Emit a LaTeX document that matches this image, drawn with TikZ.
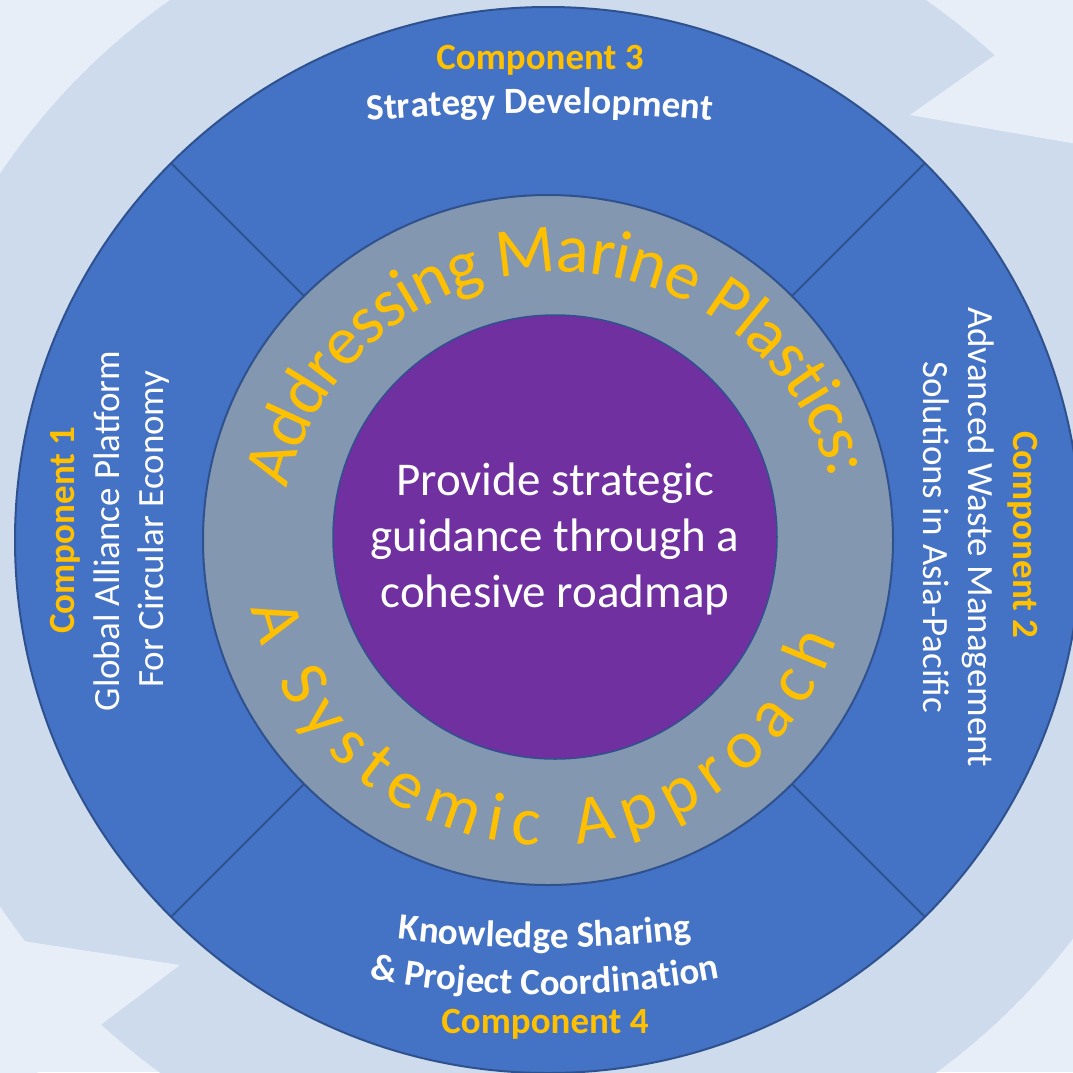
\documentclass[tikz,border=0pt]{standalone}
\usepackage{fontspec}
\setmainfont{Carlito}
\usetikzlibrary{calc}
\definecolor{bgl}{HTML}{E7EEF7}
\definecolor{ringc}{HTML}{CDDBED}
\definecolor{blu}{HTML}{4472C4}
\definecolor{edgeb}{HTML}{2F528F}
\definecolor{grayb}{HTML}{8497B0}
\definecolor{purp}{HTML}{7030A0}
\definecolor{gold}{HTML}{FFC000}
\newcommand\labfont{\fontsize{37}{44}\selectfont}
\newcommand\labbold{\fontsize{37}{44}\selectfont\bfseries}
\newcommand\ringfont{\fontsize{69}{80}\selectfont}
\newlength\rtw
% measure characters (outside the picture): #1 prefix, #2 font, #3 list
\newcommand\measuretext[3]{%
  \begingroup #2%
  \xdef\rttot{0}%
  \foreach \ch [count=\ci] in {#3} {%
    \settowidth{\rtw}{\ch}%
    \expandafter\xdef\csname rtw#1\ci\endcsname{\the\rtw}%
    \pgfmathsetmacro\rtt{\rttot+\rtw}\xdef\rttot{\rtt}%
    \expandafter\xdef\csname rtn#1\endcsname{\ci}%
  }%
  \expandafter\xdef\csname rttot#1\endcsname{\rttot}%
  \endgroup}
% #1 centre, #2 radius, #3 mid angle, #4 span angle (0 = natural), #5 sign (+1 ccw, -1 cw),
% #6 font, #7 colour, #8 prefix, #9 character list
\newcommand\arctext[9]{%
  \begingroup
  \edef\rttot{\csname rttot#8\endcsname}%
  \edef\rtn{\csname rtn#8\endcsname}%
  \pgfmathsetmacro\rtgap{(#4>0) ? ((#4*pi/180*#2-\rttot)/(\rtn-1)) : 0}%
  \pgfmathsetmacro\rtfull{\rttot+(\rtn-1)*\rtgap}%
  \pgfmathsetmacro\rtstart{#3-(#5)*\rtfull/2/#2*180/pi}%
  \xdef\rtpos{0}%
  \foreach \ch [count=\ci] in {#9} {%
    \edef\rtcw{\csname rtw#8\ci\endcsname}%
    \pgfmathsetmacro\rtang{\rtstart+(#5)*(\rtpos+\rtcw/2)/#2*180/pi}%
    \pgfmathsetmacro\rtrot{\rtang+(#5)*90}%
    \node[anchor=base, inner sep=0pt, outer sep=0pt, text=#7, font=#6, rotate=\rtrot] (#8\ci) at ($(#1)+(\rtang:#2)$) {\ch};
    \pgfmathsetmacro\rtp{\rtpos+\rtcw+\rtgap}\xdef\rtpos{\rtp}%
  }%
  \endgroup
}
\begin{document}%
\measuretext{rt}{\ringfont}{A,d,d,r,e,s,s,i,n,g,\ ,M,a,r,i,n,e,\ ,P,l,a,s,t,i,c,s,:}%
\measuretext{rb}{\ringfont}{A,\ ,S,y,s,t,e,m,i,c,\ ,A,p,p,r,o,a,c,h}%
\measuretext{sd}{\labbold}{S,t,r,a,t,e,g,y,\ ,D,e,v,e,l,o,p,m,e,n,t}%
\measuretext{ks}{\labbold}{K,n,o,w,l,e,d,g,e,\ ,S,h,a,r,i,n,g}%
\measuretext{pc}{\labbold}{\&,\ ,P,r,o,j,e,c,t,\ ,C,o,o,r,d,i,n,a,t,i,o,n}%
\begin{tikzpicture}[x=1pt,y=1pt,
  disc/.style={circle, inner sep=0pt, outer sep=0pt, draw=edgeb},
  comp/.style={font=\labbold, text=gold, inner sep=0pt, anchor=base},
  desc/.style={font=\labfont, text=white, inner sep=0pt, anchor=base},
  goal/.style={font=\fontsize{47}{56}\selectfont, text=white, inner sep=0pt, anchor=base},
  divider/.style={draw=edgeb, line width=2pt}]
\useasboundingbox (0,0) rectangle (1073,-1072);
% background and circular arrows
\fill[bgl] (0,0) rectangle (1073,-1072);
\fill[ringc, even odd rule] (548,-540) circle[radius=659] (548,-540) circle[radius=450];
\fill[bgl] (910,-115) -- (1087,10) -- (1100,10) -- (1100,-148) -- cycle;
\fill[bgl] (180,-965) -- (21,-1085) -- (-10,-1085) -- (-10,-936) -- cycle;
% discs
\node[disc, fill=blu, line width=2pt, minimum size=1066pt] (outer) at (548,-540) {};
\node[disc, fill=grayb, line width=2pt, minimum size=690pt] (mid) at (548,-540) {};
\foreach \a in {45,135,225,315} \draw[divider] (mid.\a) -- (outer.\a);
\node[disc, fill=purp, line width=1.5pt, minimum size=444pt] (core) at (555,-537) {};
% centre text
\node[goal] (g1) at (555,-495) {Provide strategic};
\node[goal] (g2) at (555,-551) {guidance through a};
\node[goal] (g3) at (555,-607) {cohesive roadmap};
% ring text
\arctext{560,-552}{280}{91}{152}{-1}{\ringfont}{gold}{rt}{A,d,d,r,e,s,s,i,n,g,\ ,M,a,r,i,n,e,\ ,P,l,a,s,t,i,c,s,:}
\arctext{548,-540}{305}{267}{148}{1}{\ringfont}{gold}{rb}{A,\ ,S,y,s,t,e,m,i,c,\ ,A,p,p,r,o,a,c,h}
% component 3 (top)
\node[comp] (c3) at (540,-69) {Component 3};
\arctext{540,-2113}{2000}{90}{0}{-1}{\labbold}{white}{sd}{S,t,r,a,t,e,g,y,\ ,D,e,v,e,l,o,p,m,e,n,t}
% component 4 (bottom)
\arctext{545,252}{1200}{270}{0}{1}{\labbold}{white}{ks}{K,n,o,w,l,e,d,g,e,\ ,S,h,a,r,i,n,g}
\arctext{545,-60}{935}{270}{0}{1}{\labbold}{white}{pc}{\&,\ ,P,r,o,j,e,c,t,\ ,C,o,o,r,d,i,n,a,t,i,o,n}
\node[comp] (c4) at (545,-1033) {Component 4};
% component 1 (left)
\node[comp, rotate=90] (c1) at (74,-530) {Component 1};
\node[desc, rotate=90] (c1a) at (119,-531) {Global Alliance Platform};
\node[desc, rotate=90] (c1b) at (163,-529) {For Circular Economy};
% component 2 (right)
\node[comp, rotate=-90] (c2) at (1013,-535) {Component 2};
\node[desc, rotate=-90] (c2a) at (968,-537) {Advanced Waste Management};
\node[desc, rotate=-90] (c2b) at (923,-537) {Solutions in Asia-Pacific};
\end{tikzpicture}%
\end{document}
